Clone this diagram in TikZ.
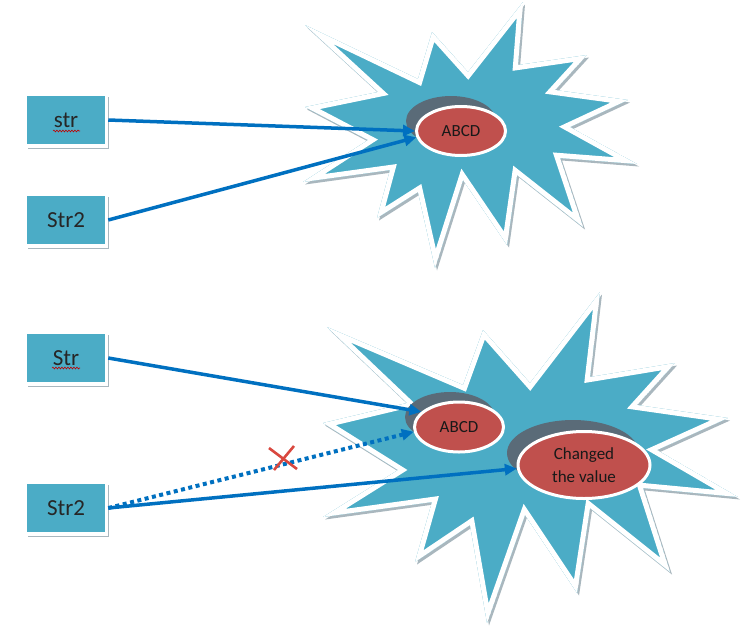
\documentclass[tikz,border=0pt]{standalone}
\usepackage{fontspec}
\setmainfont{Carlito}
\usetikzlibrary{arrows.meta,shapes.geometric,decorations.pathmorphing,shadows}
\definecolor{skyblue}{HTML}{4BACC6}
\definecolor{ovalred}{HTML}{C0504D}
\definecolor{shade}{HTML}{5A6B78}
\definecolor{arrowblue}{HTML}{0070C0}
\definecolor{edgegray}{HTML}{A9B7BE}
\definecolor{xred}{HTML}{D9483F}
\tikzset{
  box/.style={rectangle, fill=skyblue, draw=white, line width=3.5pt,
    minimum width=81pt, minimum height=52pt, inner sep=0pt,
    font=\fontsize{23}{26}\selectfont, text=black!85,
    drop shadow={shadow xshift=2pt, shadow yshift=-2.5pt, fill=edgegray, opacity=1}},
  oval/.style={ellipse, fill=ovalred, draw=white, line width=3pt, inner sep=0pt,
    font=\fontsize{17}{23}\selectfont, align=center, text=black!90},
  ovalshade/.style={ellipse, fill=shade, inner sep=0pt},
  arr/.style={arrowblue, line width=3.5pt, -{Triangle[length=12pt,width=11pt]}},
  dotarr/.style={arrowblue, line width=4pt, dash pattern=on 4pt off 3.5pt,
    -{Triangle[length=12pt,width=11pt]}},
  starshadow/.style={fill=edgegray},
  starwhite/.style={fill=white},
  starband/.style={draw=white, line width=10pt, line join=miter, miter limit=20},
  squiggle/.style={red!75!black, line width=0.6pt,
    decorate, decoration={snake, amplitude=0.9pt, segment length=3pt}},
  cross/.style={xred, line width=2.6pt}
}
\begin{document}
\begin{tikzpicture}[x=1pt,y=-1pt]
\useasboundingbox (0,0) rectangle (741,627);

% ---------- top star ----------
\def\topstar{(305,25) -- (418,79) -- (432,32) -- (468,72) -- (523,2) -- (518,65)
  -- (587,55) -- (555,90) -- (628,100) -- (570,127) -- (637,164) -- (560,158)
  -- (583,227) -- (517,175) -- (507,245) -- (463,180) -- (435,268) -- (418,192)
  -- (377,218) -- (390,170) -- (303,182) -- (368,140) -- (305,107) -- (378,92) -- cycle}
\path[starshadow, shift={(2,2.5)}] \topstar;
\path[starwhite] \topstar;
\begin{scope}
  \clip \topstar;
  \path[fill=skyblue, starband] \topstar;
\end{scope}

% ---------- bottom star ----------
\def\botstar{(327,327) -- (463,385) -- (483,330) -- (530,383) -- (600,292) -- (590,377)
  -- (675,363) -- (637,405) -- (728,418) -- (657,450) -- (738,497) -- (643,488)
  -- (670,572) -- (590,508) -- (577,593) -- (525,515) -- (487,623) -- (470,525)
  -- (415,562) -- (432,502) -- (323,517) -- (398,470) -- (323,423) -- (407,403) -- cycle}
\path[starshadow, shift={(2,2.5)}] \botstar;
\path[starwhite] \botstar;
\begin{scope}
  \clip \botstar;
  \path[fill=skyblue, starband] \botstar;
\end{scope}

% ---------- ovals ----------
\node[ovalshade, minimum width=90pt, minimum height=50pt] (e1s) at (451,121) {};
\node[oval, minimum width=89pt, minimum height=49pt] (e1) at (461,131) {ABCD};

\node[ovalshade, minimum width=90pt, minimum height=50pt] (e2s) at (450,417) {};
\node[oval, minimum width=89pt, minimum height=50pt] (e2) at (459,427) {ABCD};

\node[ovalshade, minimum width=132pt, minimum height=66pt] (e3s) at (573,453) {};
\node[oval, minimum width=132pt, minimum height=67pt] (e3) at (584,465) {Changed\\the value};

% ---------- boxes ----------
\node[box] (s1) at (66,120) {str};
\node[box] (s2) at (66,220) {Str2};
\node[box] (s3) at (66,358) {Str};
\node[box] (s4) at (66,508) {Str2};

\draw[squiggle] (53,131) -- (80,131);
\draw[squiggle] (52,368) -- (80,368);

% ---------- connectors ----------
\draw[arr] (s1.east) -- (e1.180);
\draw[arr] (s2.east) -- (e1.188);
\draw[arr] (s3.east) -- (e2.158);
\draw[dotarr] (s4.east) -- (e2.186);
\draw[arr] (s4.east) -- (e3.183);

% ---------- cross mark ----------
\coordinate (xm) at (283,458);
\draw[cross] (269,448) -- (297,469);
\draw[cross] (294,446) -- (274,470);
\end{tikzpicture}
\end{document}
